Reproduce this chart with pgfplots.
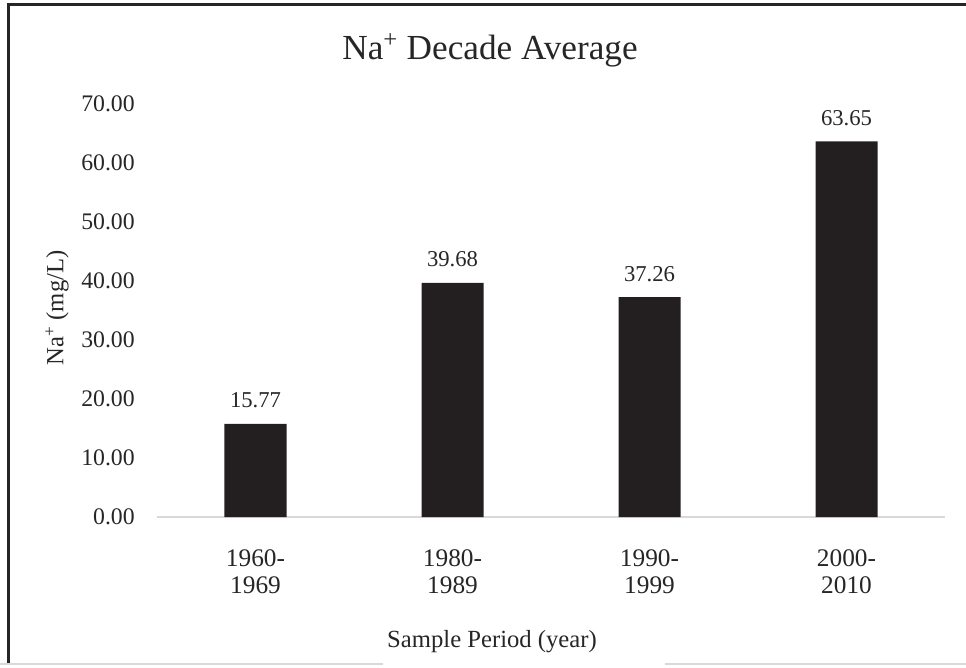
\documentclass[border=0pt]{standalone}
\usepackage{fontspec}
\setmainfont{Liberation Serif}
\usepackage{pgfplots}
\pgfplotsset{compat=1.18}
\definecolor{barblack}{HTML}{231F20}
\definecolor{axisgray}{HTML}{D9D9D9}
\definecolor{textgray}{HTML}{262626}

\begin{document}
\begin{tikzpicture}
\begin{axis}[
  scale only axis,
  width=591pt, height=309.75pt,
  xmin=-0.5, xmax=3.5, ymin=0, ymax=70,
  ybar, bar width=46.5pt,
  axis x line*=bottom, axis y line*=left,
  x axis line style={draw=axisgray, line width=1.5pt},
  y axis line style={draw=none},
  major tick length=0pt,
  xtick=data,
  xticklabels={{1960-\\1969},{1980-\\1989},{1990-\\1999},{2000-\\2010}},
  ytick={0,10,...,70},
  xticklabel style={align=center, font=\fontsize{19}{20.5}\selectfont, text=textgray,
    inner sep=0pt, anchor=north, yshift=-24pt},
  yticklabel style={font=\fontsize{17.8}{20}\selectfont, text=textgray,
    inner sep=0pt, anchor=east, xshift=-16.5pt},
  /pgf/number format/fixed,
  /pgf/number format/zerofill,
  /pgf/number format/precision=2,
  /pgf/number format/assume math mode=true,
  nodes near coords,
  every node near coord/.append style={font=\fontsize{17}{20}\selectfont, text=textgray,
    anchor=base, inner sep=0pt, yshift=12pt},
  clip=false,
]
  \addplot[fill=barblack, draw=none] coordinates {
    (0, 15.77) (1, 39.68) (2, 37.26) (3, 63.65)
  };
\end{axis}

% frame, title and axis titles in picture pixels (y down)
\begin{scope}[shift={(current axis.south west)}, xshift=-117.75pt, yshift=387.75pt,
  x=0.75pt, y=-0.75pt]
  \useasboundingbox (0,0) rectangle (966,667);
  \draw[line width=2.25pt, black!85] (9,664) -- (9,5) -- (966,5);
  \draw[axisgray, line width=1.5pt] (0,664) -- (383,664) (665,664) -- (966,664);
  \node[font=\fontsize{26.4}{30}\selectfont, text=textgray, anchor=base, inner sep=0pt]
    at (490,60) {Na\textsuperscript{+} Decade Average};
  \node[font=\fontsize{18.5}{22}\selectfont, text=textgray, anchor=base, inner sep=0pt]
    at (492,647) {Sample Period (year)};
  \node[font=\fontsize{18.5}{22}\selectfont, text=textgray, rotate=90, inner sep=0pt]
    at (57,308) {Na\textsuperscript{+} (mg/L)};
\end{scope}
\end{tikzpicture}
\end{document}
